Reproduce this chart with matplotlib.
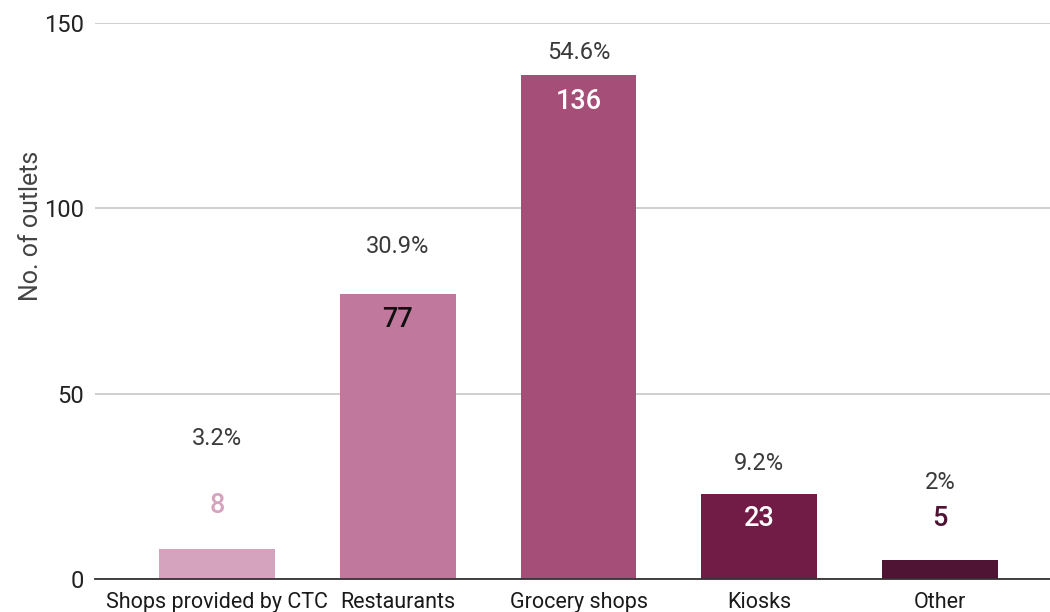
import matplotlib
matplotlib.use("Agg")
import matplotlib.pyplot as plt

# Outlet counts by type
categories = ["Shops provided by CTC", "Restaurants", "Grocery shops", "Kiosks", "Other"]
outlets = [8, 77, 136, 23, 5]
y_ticks = [0, 50, 100, 150]

bar_colors = ["#d6a3bf", "#c0789d", "#a44e78", "#711c47", "#4f1434"]
count_colors = ["#d6a3bf", "#111111", "#ffffff", "#ffffff", "#4f1434"]
# vertical offsets (pixels) of the labels relative to each bar top
count_offsets = [44, -26, -27, -25, 42]
pct_offsets = [111, 47, 22, 30, 78]

plt.rcParams["font.family"] = ["Roboto", "DejaVu Sans"]

fig = plt.figure(figsize=(10.5, 6.12), dpi=100)
ax = fig.add_axes([0.0905, 0.0539, 0.9095, 0.9085])

total = sum(outlets)
x = list(range(len(categories)))
ax.bar(x, outlets, width=0.64, color=bar_colors, zorder=3)

px = 0.72  # points per pixel at 100 dpi
for i, v in enumerate(outlets):
    ax.annotate(f"{v}", (i, v), xytext=(0, count_offsets[i] * px),
                textcoords="offset points", ha="center", va="center",
                fontsize=19.5, fontweight="medium", color=count_colors[i], zorder=4)
    pct = 100 * v / total
    pct_txt = f"{pct:.1f}".rstrip("0").rstrip(".") + "%"
    ax.annotate(pct_txt, (i, v), xytext=(0, pct_offsets[i] * px),
                textcoords="offset points", ha="center", va="center",
                fontsize=17, fontweight="normal", color="#3a3a3a", zorder=4)

ax.set_xlim(-0.675, 4.608)
ax.set_ylim(0, 150)
ax.set_yticks(y_ticks)
ax.set_yticklabels([str(t) for t in y_ticks], fontsize=17, color="#222222")
ax.set_xticks(x)
ax.set_xticklabels(categories, fontsize=15.5, color="#1a1a1a")
ax.tick_params(axis="both", length=0)
ax.tick_params(axis="y", pad=8)
ax.tick_params(axis="x", pad=9)

ax.grid(axis="y", color="#cccccc", linewidth=1.3, zorder=0)
for s in ["top", "right", "left"]:
    ax.spines[s].set_visible(False)
ax.spines["bottom"].set_color("#333333")
ax.spines["bottom"].set_linewidth(1.3)
ax.spines["bottom"].set_zorder(5)

ax.set_ylabel("No. of outlets", fontsize=18, fontweight="normal", color="#444444")
ax.yaxis.set_label_coords(-0.055, 0.635)

fig.savefig("out.png", dpi=100)
